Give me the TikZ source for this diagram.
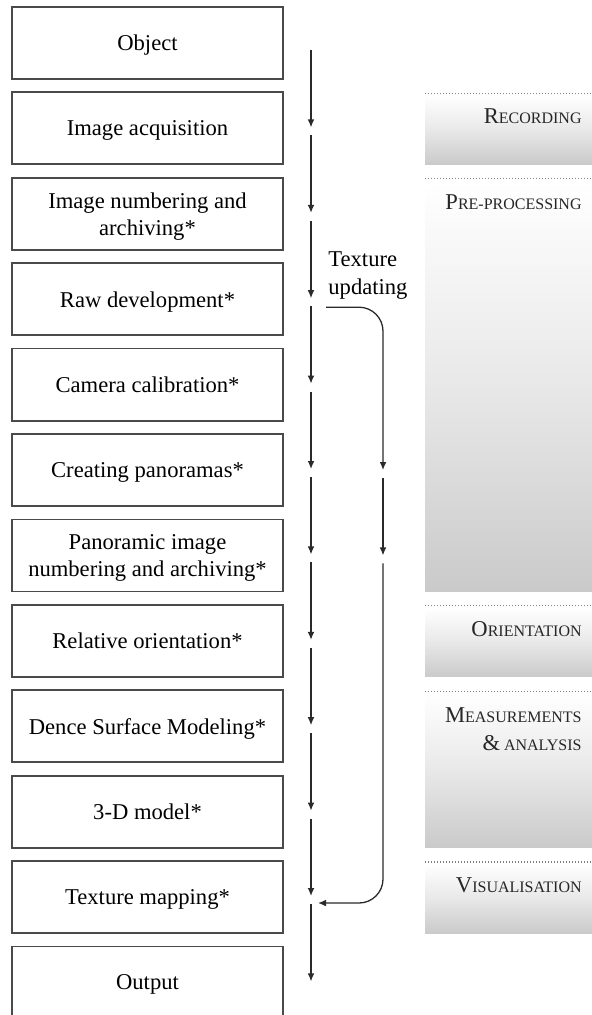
\documentclass[tikz,border=0pt]{standalone}
\usepackage{fontspec}
\setmainfont{Liberation Serif}
\usetikzlibrary{arrows.meta,calc}
\definecolor{boxgray}{HTML}{4A4A4A}
\definecolor{linegray}{HTML}{2A2A2A}
\definecolor{bandgray}{HTML}{CACACA}
\newcommand{\scap}[2]{#1{\fontsize{8}{9}\selectfont #2}}

\begin{document}
\begin{tikzpicture}[x=0.5pt,y=-0.5pt,font=\fontsize{11.3}{13.5}\selectfont]
  \tikzset{stepbox/.style={draw=boxgray, line width=0.9pt, align=center, minimum width=135.5pt, minimum height=36pt, inner sep=2pt, text depth=0pt},
    flow/.style={draw=linegray, line width=0.65pt, -{Latex[length=4pt,width=3.4pt]}},
    band/.style={top color=white, bottom color=bandgray, middle color=black!9},
    bandline/.style={draw=gray, line width=0.6pt, dash pattern=on 0.6pt off 0.9pt},
    bandlabel/.style={anchor=base east, align=right, inner sep=0pt, text=black!85, font=\fontsize{11.3}{14}\selectfont}}
  \useasboundingbox (0,0) rectangle (592,1015);
  % phase bands on the right
  \foreach \ta/\tb in {2/2, 3/7, 8/8, 9/10, 11/11}{
    \shade[band] (425,{7+85.4*(\ta-1)+3}) rectangle (592,{7+85.4*(\tb-1)+72});
    \draw[bandline] (425,{7+85.4*(\ta-1)+1}) -- (592,{7+85.4*(\ta-1)+1});
  }
  \node[bandlabel] (rec) at (582,124) {\scap{R}{ECORDING}};
  \node[bandlabel] (pre) at (582,209.5) {\scap{P}{RE-PROCESSING}};
  \node[bandlabel] (ori) at (582,636) {\scap{O}{RIENTATION}};
  \node[bandlabel] (mea) at (582,750) {\scap{M}{EASUREMENTS}\\\scap{\&}{ ANALYSIS}};
  \node[bandlabel] (vis) at (582,892.5) {\scap{V}{ISUALISATION}};
  % process steps and the two arrow columns
  \foreach \txt [count=\i] in {Object, Image acquisition, {Image numbering and\\archiving*}, Raw development*, Camera calibration*, Creating panoramas*, {Panoramic image\\numbering and archiving*}, Relative orientation*, Dence Surface Modeling*, 3-D model*, Texture mapping*, Output}{
    \node[stepbox] (b\i) at (147.5,{43+85.4*(\i-1)}) {\txt};
    \coordinate (m\i) at (311,{43+85.4*(\i-1)});
    \coordinate (r\i) at (383,{43+85.4*(\i-1)});
  }
  \foreach \i [evaluate=\i as \j using int(\i+1)] in {1,...,11}
    \draw[flow] ($(m\i)+(0,7)$) -- ($(m\j)+(0,-1)$);
  % texture updating loop
  \node[anchor=base west, align=left, inner sep=0pt, font=\fontsize{11.3}{14}\selectfont] (tu) at (328,295) {Texture\\updating};
  \draw[flow, rounded corners=12pt] ($(m4)+(15,8)$) -| (r6);
  \draw[flow] ($(r6)+(0,8)$) -- (r7);
  \draw[flow, rounded corners=12pt] ($(r7)+(0,8)$) |- ($(m11)+(7,6)$);
\end{tikzpicture}
\end{document}
